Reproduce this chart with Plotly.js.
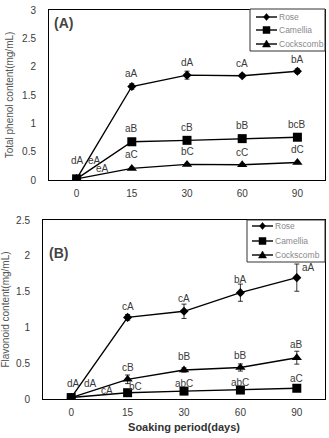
<!DOCTYPE html>
<html>
<head>
<meta charset="utf-8">
<script src="https://cdn.plot.ly/plotly-3.0.1.min.js"></script>
<style>
  html, body { margin: 0; padding: 0; background: #fff; }
  #chart { width: 329px; height: 438px; }
</style>
</head>
<body>
<div id="chart"></div>
<script>
// Soaking period categories (days)
const days = ['0', '15', '30', '60', '90'];
const seriesNames = ['Rose', 'Camellia', 'Cockscomb'];

// (A) Total phenol content (mg/mL)
const phenolRose = [0.02, 1.65, 1.85, 1.84, 1.92];
const phenolRoseErr = [0.0, 0.05, 0.07, 0.03, 0.04];
const phenolCamellia = [0.02, 0.675, 0.70, 0.73, 0.755];
const phenolCamelliaErr = [0.0, 0.02, 0.02, 0.02, 0.02];
const phenolCockscomb = [0.02, 0.205, 0.275, 0.27, 0.31];
const phenolCockscombErr = [0.0, 0.02, 0.02, 0.02, 0.02];
const phenolRoseSig = ['dA', 'aA', 'dA', 'cA', 'bA'];
const phenolCamelliaSig = ['eA', 'aB', 'cB', 'bB', 'bcB'];
const phenolCockscombSig = ['eA', 'aC', 'bC', 'cC', 'dC'];

// (B) Flavonoid content (mg/mL)
const flavRose = [0.02, 1.14, 1.225, 1.485, 1.695];
const flavRoseErr = [0.0, 0.04, 0.10, 0.12, 0.19];
const flavCamellia = [0.02, 0.088, 0.11, 0.125, 0.15];
const flavCamelliaErr = [0.0, 0.01, 0.01, 0.01, 0.01];
const flavCockscomb = [0.02, 0.275, 0.405, 0.44, 0.577];
const flavCockscombErr = [0.0, 0.06, 0.03, 0.05, 0.09];
const flavRoseSig = ['dA', 'cA', 'cA', 'bA', 'aA'];
const flavCamelliaSig = ['cA', 'bC', 'abC', 'abC', 'aC'];
const flavCockscombSig = ['dA', 'cB', 'bB', 'bB', 'aB'];

const W = 329, H = 438;
const xIdx = days.map((d, i) => i);
const ink = '#000';
const textCol = '#3a3a3a';
const FONT = 'Liberation Sans, Arial, sans-serif';
const symbols = ['diamond', 'square', 'triangle-up'];
const markerSizes = [7, 9, 9];

function series(vals, errs, k, xa, ya) {
  return {
    x: xIdx, y: vals, xaxis: xa, yaxis: ya,
    type: 'scatter', mode: 'lines+markers',
    name: seriesNames[k], showlegend: false,
    line: {color: ink, width: 1.4},
    marker: {symbol: symbols[k], size: markerSizes[k], color: ink},
    error_y: {type: 'data', array: errs, visible: true, color: ink, thickness: 0.8, width: 2.5}
  };
}

const data = [
  series(phenolRose, phenolRoseErr, 0, 'x', 'y'),
  series(phenolCamellia, phenolCamelliaErr, 1, 'x', 'y'),
  series(phenolCockscomb, phenolCockscombErr, 2, 'x', 'y'),
  series(flavRose, flavRoseErr, 0, 'x2', 'y2'),
  series(flavCamellia, flavCamelliaErr, 1, 'x2', 'y2'),
  series(flavCockscomb, flavCockscombErr, 2, 'x2', 'y2')
];

// significance letters: placed above each point (with per-label pixel nudges)
const annotations = [];
function letters(vals, sigs, xr, yr, shifts) {
  vals.forEach((v, i) => {
    const s = shifts[i];
    annotations.push({
      x: xIdx[i], y: v, xref: xr, yref: yr, text: sigs[i], showarrow: false,
      xshift: s[0], yshift: s[1],
      font: {family: FONT, size: 10, color: textCol}
    });
  });
}
letters(phenolRose, phenolRoseSig, 'x', 'y', [[1, 18], [0, 13], [0, 13], [0, 12], [0, 12]]);
letters(phenolCamellia, phenolCamelliaSig, 'x', 'y', [[18, 18], [0, 13], [0, 13], [0, 13], [0, 13]]);
letters(phenolCockscomb, phenolCockscombSig, 'x', 'y', [[26, 10], [0, 14], [0, 13], [0, 12], [0, 13]]);
letters(flavRose, flavRoseSig, 'x2', 'y2', [[2, 14], [0, 11], [0, 13], [0, 13], [12, 10]]);
letters(flavCamellia, flavCamelliaSig, 'x2', 'y2', [[36, 7], [8, 6], [0, 8], [0, 8], [0, 10]]);
letters(flavCockscomb, flavCockscombSig, 'x2', 'y2', [[19, 14], [0, 12], [0, 14], [0, 12], [0, 13]]);

// panel tags
annotations.push({xref: 'paper', yref: 'paper', x: 52 / W, y: 1 - 23 / H, xanchor: 'left', yanchor: 'middle',
  text: '<b>(A)</b>', showarrow: false, font: {family: FONT, size: 14, color: '#444'}});
annotations.push({xref: 'paper', yref: 'paper', x: 47 / W, y: 1 - 253 / H, xanchor: 'left', yanchor: 'middle',
  text: '<b>(B)</b>', showarrow: false, font: {family: FONT, size: 14, color: '#444'}});

// compact boxed legends drawn with shapes + text (pixel coords -> paper)
const px = x => x / W, py = y => 1 - y / H;
const shapes = [];
function glyphPath(k, cx, cy) {
  let pts;
  if (k === 0) pts = [[cx, cy - 3.5], [cx + 3, cy], [cx, cy + 3.5], [cx - 3, cy]];
  else if (k === 1) pts = [[cx - 3.5, cy - 3.5], [cx + 3.5, cy - 3.5], [cx + 3.5, cy + 3.5], [cx - 3.5, cy + 3.5]];
  else pts = [[cx, cy - 4], [cx + 4, cy + 3], [cx - 4, cy + 3]];
  return 'M ' + pts.map(p => px(p[0]) + ',' + py(p[1])).join(' L ') + ' Z';
}
function legendBox(x0, y0, x1, y1, lineX0, lineX1, textX, rows) {
  shapes.push({type: 'rect', xref: 'paper', yref: 'paper', x0: px(x0), x1: px(x1), y0: py(y0), y1: py(y1),
    line: {color: '#333', width: 1}, fillcolor: '#fff', layer: 'above'});
  seriesNames.forEach((name, k) => {
    const yy = rows[k];
    shapes.push({type: 'line', xref: 'paper', yref: 'paper', x0: px(lineX0), x1: px(lineX1), y0: py(yy), y1: py(yy),
      line: {color: ink, width: 1.4}, layer: 'above'});
    shapes.push({type: 'path', xref: 'paper', yref: 'paper', path: glyphPath(k, (lineX0 + lineX1) / 2, yy),
      fillcolor: ink, line: {color: ink, width: 0.5}, layer: 'above'});
    annotations.push({xref: 'paper', yref: 'paper', x: px(textX), y: py(yy), xanchor: 'left', yanchor: 'middle',
      text: name, showarrow: false, font: {family: FONT, size: 8.5, color: '#8a8a8a'}});
  });
}
legendBox(250, 9, 325, 51, 256, 277, 277, [17, 30, 44]);
legendBox(247, 220, 325, 262, 252, 273, 273, [226, 241, 255]);

const tickFont = {family: FONT, size: 10, color: textCol};

function xAxis(domain, anchor, title) {
  return {
    domain: domain, anchor: anchor, range: [-0.5, 4.5],
    tickmode: 'array', tickvals: xIdx, ticktext: days,
    showgrid: false, zeroline: false, showline: true, mirror: true,
    linecolor: ink, linewidth: 1, ticks: '', tickfont: tickFont,
    ticklabelstandoff: 4,
    title: title ? {text: title, font: {family: FONT, size: 11, color: '#333', weight: 'bold'}, standoff: 6} : undefined
  };
}
function yAxis(domain, anchor, range, dtick, title) {
  return {
    domain: domain, anchor: anchor, range: range, dtick: dtick,
    showgrid: false, zeroline: false, showline: true, mirror: true,
    linecolor: ink, linewidth: 1, ticks: '', tickfont: tickFont,
    ticklabelstandoff: 10,
    title: {text: title, font: {family: FONT, size: 10, color: '#555'}, standoff: 6}
  };
}

const layout = {
  width: W, height: H,
  margin: {l: 0, r: 0, t: 0, b: 0},
  paper_bgcolor: '#fff', plot_bgcolor: '#fff',
  showlegend: false,
  xaxis: xAxis([49 / W, 325 / W], 'y', null),
  yaxis: yAxis([1 - 180 / H, 1 - 10 / H], 'x', [0, 3], 0.5, 'Total phenol content(mg/mL)'),
  xaxis2: xAxis([43 / W, 325 / W], 'y2', 'Soaking period(days)'),
  yaxis2: yAxis([1 - 399 / H, 1 - 220 / H], 'x2', [0, 2.5], 0.5, 'Flavonoid content(mg/mL)'),
  shapes: shapes,
  annotations: annotations
};

Plotly.newPlot('chart', data, layout, {staticPlot: true, displayModeBar: false});
</script>
</body>
</html>
